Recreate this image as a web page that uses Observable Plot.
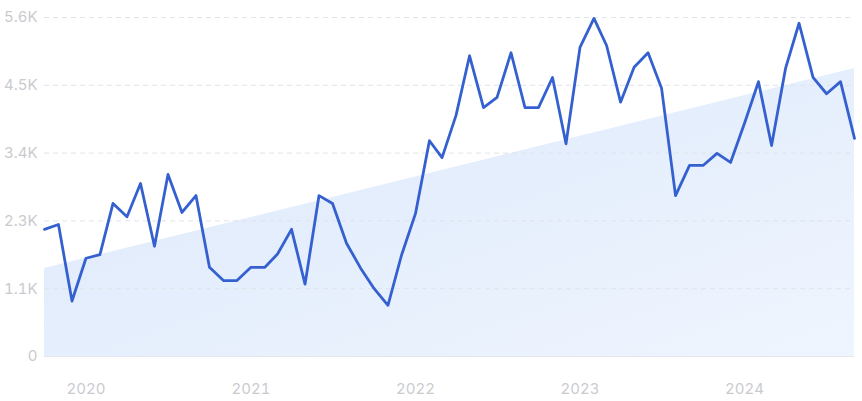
<!DOCTYPE html>
<html>
<head>
<meta charset="utf-8">
<script src="https://cdn.jsdelivr.net/npm/d3@7"></script>
<script src="https://cdn.jsdelivr.net/npm/@observablehq/plot@0.6"></script>
<style>
  html, body { margin: 0; padding: 0; background: #fff; }
  #chart svg { display: block; }
</style>
</head>
<body>
<div id="chart"></div>
<script>
// Monthly values, Oct 2019 .. Sep 2024
const startMonth = "2019-10-01";
const values = [
  2110, 2190, 920, 1630, 1690, 2540, 2320, 2870, 1830, 3020, 2390, 2670,
  1480, 1260, 1260, 1480, 1480, 1700, 2110, 1200, 2670, 2540, 1880, 1470,
  1130, 850, 1680, 2370, 3580, 3300, 4000, 4990, 4130, 4300, 5040, 4130,
  4130, 4630, 3530, 5130, 5610, 5160, 4220, 4800, 5040, 4450, 2670, 3170,
  3170, 3370, 3220, 3870, 4560, 3500, 4780, 5530, 4630, 4360, 4560, 3620
];
const trendValues = [1460, 4780];
const yTicks = [0, 1125, 2250, 3375, 4500, 5625];
const xTickYears = [2020, 2021, 2022, 2023, 2024];

const start = new Date(startMonth + "T00:00:00Z");
const monthDate = (i) => new Date(Date.UTC(start.getUTCFullYear(), start.getUTCMonth() + i, 1));
const series = values.map((v, i) => ({date: monthDate(i), value: v}));
const trend = [
  {date: series[0].date, value: trendValues[0]},
  {date: series[series.length - 1].date, value: trendValues[1]}
];
const xTicks = xTickYears.map(y => new Date(Date.UTC(y, 0, 1)));

const fmtY = v => v === 0 ? "0" : (v / 1000).toFixed(1) + "K";

const chart = Plot.plot({
  width: 862,
  height: 401,
  marginLeft: 44,
  marginRight: 8,
  marginTop: 17,
  marginBottom: 45,
  style: {fontFamily: "Inter, 'Noto Sans', sans-serif", fontSize: "15px", color: "#c9cbcf", background: "#fff"},
  x: {type: "utc", domain: [series[0].date, series[series.length - 1].date], ticks: xTicks, tickFormat: d3.utcFormat("%Y"), tickSize: 0, tickPadding: 27, label: null},
  y: {domain: [0, 5625], ticks: yTicks, tickFormat: fmtY, tickSize: 0, tickPadding: 7, label: null},
  marks: [
    Plot.areaY(trend, {x: "date", y: "value", fill: "url(#trendGrad)"}),
    Plot.ruleY(yTicks.filter(t => t > 0), {stroke: "#dfe4ea", strokeWidth: 1, strokeDasharray: "5,4"}),
    Plot.ruleY([0], {stroke: "#e2e7ee", strokeWidth: 1}),
    Plot.lineY(series, {x: "date", y: "value", stroke: "#3560cf", strokeWidth: 2.8, strokeLinejoin: "round", strokeLinecap: "round"})
  ]
});

const svg = d3.select(chart);
const defs = svg.insert("defs", ":first-child");
const grad = defs.append("linearGradient").attr("id", "trendGrad")
  .attr("x1", "0").attr("y1", "0").attr("x2", "1").attr("y2", "1");
grad.append("stop").attr("offset", "0%").attr("stop-color", "#dce8fb");
grad.append("stop").attr("offset", "100%").attr("stop-color", "#eff5fe");

document.getElementById("chart").appendChild(chart);
</script>
</body>
</html>
